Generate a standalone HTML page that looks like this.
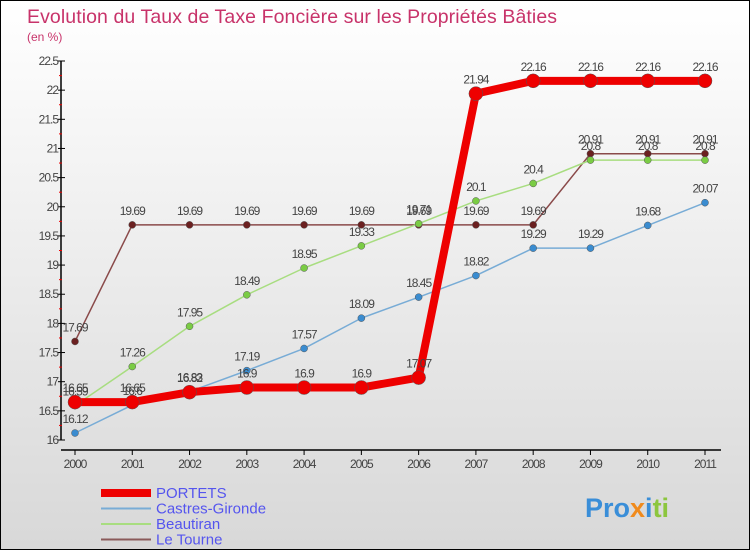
<!DOCTYPE html>
<html><head><meta charset="utf-8"><style>
body{margin:0}
#c{width:748px;height:548px;border:1px solid #000;background:linear-gradient(#fff,#d8d8d8);position:relative;font-family:"Liberation Sans",sans-serif;overflow:hidden}
</style></head><body>
<div id="c">
<svg id="s" width="748" height="548" style="position:absolute;left:0;top:0">
<text x="26" y="22" font-size="19.5" fill="#c8336a" textLength="530">Evolution du Taux de Taxe Foncière sur les Propriétés Bâties</text>
<text x="26" y="40" font-size="12" fill="#c8336a">(en %)</text>
<g id="axes"></g><g id="series"></g><g id="legend"></g>
<text x="584" y="516" font-size="27" font-weight="bold"><tspan fill="#3a8ed8">Pro</tspan><tspan fill="#f08a1c">x</tspan><tspan fill="#3a8ed8">i</tspan><tspan fill="#8cc63e">ti</tspan></text>
</svg>
</div>
<script>
const years=[2000,2001,2002,2003,2004,2005,2006,2007,2008,2009,2010,2011];
const yTicks=[16,16.5,17,17.5,18,18.5,19,19.5,20,20.5,21,21.5,22,22.5];
const portets=[16.65,16.65,16.82,16.9,16.9,16.9,17.07,21.94,22.16,22.16,22.16,22.16];
const castres=[16.12,16.6,16.83,17.19,17.57,18.09,18.45,18.82,19.29,19.29,19.68,20.07];
const beautiran=[16.59,17.26,17.95,18.49,18.95,19.33,19.71,20.1,20.4,20.8,20.8,20.8];
const letourne=[17.69,19.69,19.69,19.69,19.69,19.69,19.69,19.69,19.69,20.91,20.91,20.91];
const NS="http://www.w3.org/2000/svg";
function X(i){return 74+i*(630/11);}
function Y(v){return 439-(v-16)*(379/6.5);}
function el(t,a,p){const e=document.createElementNS(NS,t);for(const k in a)e.setAttribute(k,a[k]);p.appendChild(e);return e;}
const ax=document.getElementById('axes');
const yl=el('line',{x1:60,y1:Y(22.5),x2:60,y2:Y(16),stroke:'#000','stroke-width':1.5},ax);


const xl=el('line',{x1:60,y1:449,x2:720,y2:449,stroke:'#000','stroke-width':1.5},ax);


yTicks.forEach(v=>{
 el('line',{x1:57,x2:64,y1:Y(v),y2:Y(v),stroke:'#000'},ax);
 if(v<22.5)el('line',{x1:58,x2:61,y1:Y(v+0.25),y2:Y(v+0.25),stroke:'#e00'},ax);
 const t=el('text',{x:57,y:Y(v)+4,'font-size':12,'text-anchor':'end',fill:'#444','letter-spacing':-1},ax);
 t.textContent=String(v);
 
 
});
years.forEach((y,i)=>{
 el('line',{x1:X(i),x2:X(i),y1:449,y2:454,stroke:'#000'},ax);
 const t=el('text',{x:X(i),y:467,'font-size':12,'text-anchor':'middle',fill:'#444','letter-spacing':-1},ax);
 t.textContent=y;
 
 
});
const sg=document.getElementById('series');
function draw(vals,line,dot,w,r,name){
 const g=el('g',{},sg);
 
 
 el('polyline',{points:vals.map((v,i)=>X(i)+','+Y(v)).join(' '),fill:'none',stroke:line,'stroke-width':w,'stroke-linejoin':'round'},g);
 vals.forEach((v,i)=>{
  const c=el('circle',{cx:X(i),cy:Y(v),r:r,fill:dot,stroke:'#555','stroke-width':0.5},g);
  
  
  const t=el('text',{x:X(i),y:Y(v)-10,'font-size':12,'text-anchor':'middle',fill:'#444','letter-spacing':-1},g);
  t.textContent=String(v);
  
  
 });
}
draw(letourne,'#8a4a4a','#6b2020',1.5,3.5,'le-tourne');
draw(beautiran,'#a8dd80','#7acc44',1.5,3.5,'beautiran');
draw(castres,'#78acd6','#3a8cd0',1.5,3.5,'castres-gironde');
draw(portets,'#ee0000','#ee0000',8,7,'portets');
const lg=document.getElementById('legend');
[['PORTETS','#ee0000',8],['Castres-Gironde','#78acd6',2],['Beautiran','#a8dd80',2],['Le Tourne','#8a5a5a',2]].forEach((d,i)=>{
 const y=492+i*15.5;
 el('line',{x1:100,x2:150,y1:y,y2:y,stroke:d[1],'stroke-width':d[2]},lg);
 const t=el('text',{x:155,y:y+5,'font-size':15,fill:'#5555ee'},lg);
 t.textContent=d[0];
 
 
});
</script>
</body></html>
